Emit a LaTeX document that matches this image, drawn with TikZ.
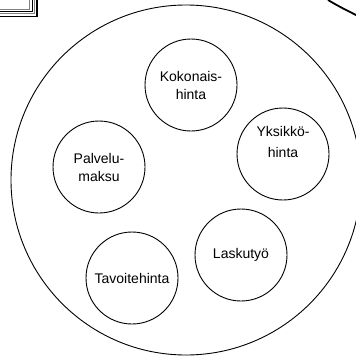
\documentclass[tikz,border=0pt]{standalone}
\usepackage{fontspec}
\setmainfont{Liberation Sans}
\begin{document}
\begin{tikzpicture}[x=1pt,y=-1pt,
  item/.style={draw=black,line width=0.9pt,circle,minimum size=92pt,inner sep=0pt,align=center,font=\fontsize{14}{18}\selectfont},
  outer/.style={draw=black,line width=0.9pt}]
\useasboundingbox (0,0) rectangle (356,356);
% top-left framed corner
\draw[line width=1.6pt] (0,16.5) -- (37,16.5) -- (37,0);
\draw[line width=0.8pt,gray] (0,13.8) -- (34.3,13.8) -- (34.3,0);
\draw[line width=1pt] (0,11.5) -- (32,11.5) -- (32,0);
\draw[line width=0.8pt,gray] (0,9) -- (29.5,9) -- (29.5,0);
% top-right thick arc
\draw[line width=1.8pt] (328,0) .. controls (338,6) and (346,10) .. (357,15.5);
% big circle
\node[outer,circle,minimum size=350pt,inner sep=0pt] (big) at (186,180) {};
% inner circles
\node[item] (koko) at (191,85) {Kokonais-\\hinta};
\node[item] (yks) at (283,154) {};
\node[font=\fontsize{14}{21}\selectfont,align=center] (ykst) at (283,142) {Yksikkö-\\hinta};
\node[item] (palv) at (99,167) {Palvelu-\\maksu};
\node[item] (lask) at (241,255) {Laskutyö};
\node[item] (tavo) at (132,278) {Tavoitehinta};
\end{tikzpicture}
\end{document}
